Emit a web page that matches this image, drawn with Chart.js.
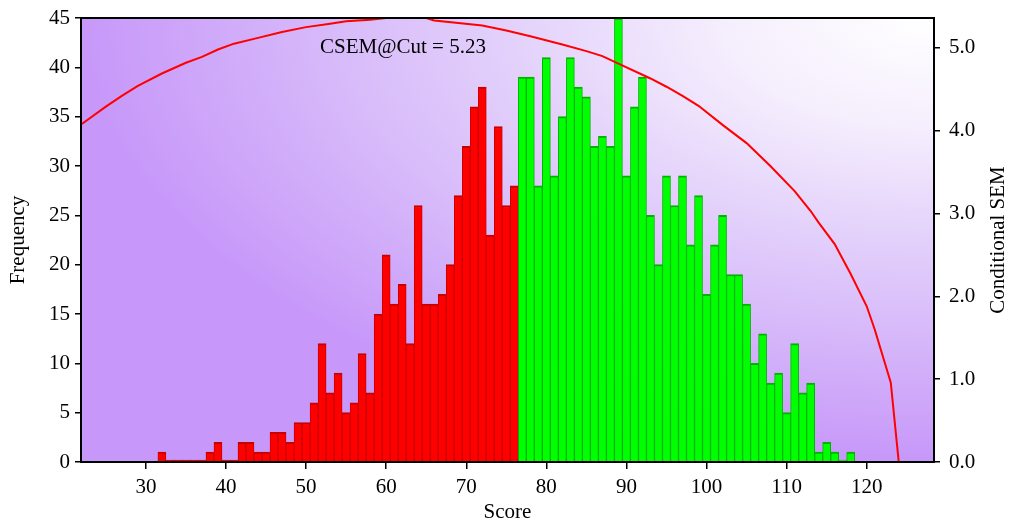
<!DOCTYPE html>
<html>
<head>
<meta charset="utf-8">
<script src="https://cdn.jsdelivr.net/npm/chart.js@4.4.1/dist/chart.umd.min.js"></script>
<style>
  html, body { margin: 0; padding: 0; background: #fff; }
  #wrap { width: 1014px; height: 525px; }
</style>
</head>
<body>
<div id="wrap"><canvas id="scoreChart"></canvas></div>
<script>
// score categories and frequencies
var scores = [32, 33, 34, 35, 36, 37, 38, 39, 40, 41,
              42, 43, 44, 45, 46, 47, 48, 49, 50, 51,
              52, 53, 54, 55, 56, 57, 58, 59, 60, 61,
              62, 63, 64, 65, 66, 67, 68, 69, 70, 71,
              72, 73, 74, 75, 76, 77, 78, 79, 80, 81,
              82, 83, 84, 85, 86, 87, 88, 89, 90, 91,
              92, 93, 94, 95, 96, 97, 98, 99, 100, 101,
              102, 103, 104, 105, 106, 107, 108, 109, 110, 111,
              112, 113, 114, 115, 116, 117, 118];
var freq = [1, 0, 0, 0, 0, 0, 1, 2, 0, 0,
            2, 2, 1, 1, 3, 3, 2, 4, 4, 6,
            12, 7, 9, 5, 6, 11, 7, 15, 21, 16,
            18, 12, 26, 16, 16, 17, 20, 27, 32, 36,
            38, 23, 34, 26, 28, 39, 39, 28, 41, 29,
            35, 41, 38, 37, 32, 33, 32, 45, 29, 36,
            39, 25, 20, 29, 26, 29, 22, 27, 17, 22,
            25, 19, 19, 16, 10, 13, 8, 9, 5, 12,
            7, 8, 1, 2, 1, 0, 1];
var cutScore = 76; // last failing score

// conditional SEM curve
var csemScores = [22, 25, 27, 29, 32, 35, 37, 39, 41, 44, 47, 50, 53, 55, 58, 60, 63, 65, 66, 69, 72, 75,
                  78, 82, 85, 87, 89, 93, 95, 97, 99, 102, 105, 108, 111, 113, 114, 116, 118, 120, 121,
                  122, 123, 124, 129];
var csemValues = [4.08, 4.29, 4.42, 4.54, 4.69, 4.82, 4.89, 4.98, 5.05, 5.12, 5.19, 5.25, 5.29, 5.32, 5.34, 5.36, 5.36, 5.36, 5.33, 5.30, 5.27, 5.21,
                  5.14, 5.04, 4.96, 4.90, 4.81, 4.63, 4.53, 4.42, 4.30, 4.07, 3.85, 3.57, 3.27, 3.03, 2.89, 2.63, 2.27, 1.88, 1.60,
                  1.28, 0.96, 0, 0];
var csemAtCut = 5.23;

var barPoints = [];
for (var i = 0; i < scores.length; i++) {
    barPoints.push({x: scores[i], y: freq[i]});
}
var csemPoints = [];
for (var j = 0; j < csemScores.length; j++) {
    csemPoints.push({x: csemScores[j], y: csemValues[j]});
}

var serif = "'Liberation Serif', 'DejaVu Serif', serif";
Chart.defaults.font.family = serif;
Chart.defaults.font.size = 21;
Chart.defaults.color = '#000';

// background, frame and texts
var plotDecor = {
    id: 'plotDecor',
    beforeDraw: function(chart) {
        var a = chart.chartArea, ctx = chart.ctx;
        var rx = 850, ry = 440;
        ctx.save();
        ctx.beginPath();
        ctx.rect(a.left, a.top, a.right - a.left, a.bottom - a.top);
        ctx.clip();
        ctx.translate(a.right, a.top);
        ctx.scale(1, ry / rx);
        var g = ctx.createRadialGradient(0, 0, 0, 0, 0, rx);
        g.addColorStop(0, '#ffffff');
        g.addColorStop(0.25, '#f5eefd');
        g.addColorStop(0.5, '#e3d1fb');
        g.addColorStop(0.7, '#d8bbfa');
        g.addColorStop(1, '#c798f9');
        ctx.fillStyle = g;
        ctx.fillRect(a.left - a.right, 0, a.right - a.left, (a.bottom - a.top) * rx / ry);
        ctx.restore();
    },
    afterDraw: function(chart) {
        var a = chart.chartArea, ctx = chart.ctx;
        ctx.save();
        ctx.strokeStyle = '#000';
        ctx.lineWidth = 2;
        ctx.strokeRect(a.left, a.top, a.right - a.left, a.bottom - a.top);

        ctx.fillStyle = '#000';
        ctx.font = '21px ' + serif;
        ctx.textAlign = 'left';
        ctx.textBaseline = 'alphabetic';
        ctx.fillText('CSEM@Cut = ' + csemAtCut.toFixed(2), a.left + 239, a.top + 35);

        ctx.translate(998, (a.top + a.bottom) / 2);
        ctx.rotate(-Math.PI / 2);
        ctx.textAlign = 'center';
        ctx.textBaseline = 'middle';
        ctx.fillText('Conditional SEM', 0, 0);
        ctx.restore();
    }
};

function fixVertical(width) {
    return function(s) {
        s.width = width;
        s.paddingTop = 0;
        s.paddingBottom = 0;
    };
}

var ctx1 = document.getElementById('scoreChart').getContext('2d');
var scoreChart = new Chart(ctx1, {
    type: 'bar',
    data: {
        datasets: [{
                type: 'line',
                label: 'Conditional SEM',
                data: csemPoints,
                yAxisID: 'y1',
                borderColor: '#ff0000',
                borderWidth: 2,
                pointRadius: 0,
                tension: 0,
                order: 0
            },
            {
                label: 'Frequency',
                data: barPoints,
                yAxisID: 'y',
                backgroundColor: function(c) { return c.raw && c.raw.x <= cutScore ? '#ff0000' : '#00ff00'; },
                borderColor: function(c) { return c.raw && c.raw.x <= cutScore ? '#c80000' : '#00b400'; },
                borderWidth: {top: 2, left: 1, right: 1, bottom: 0},
                barPercentage: 1,
                categoryPercentage: 1,
                minBarLength: 2,
                order: 1
            }
        ]
    },
    options: {
        responsive: true,
        maintainAspectRatio: false,
        animation: false,
        layout: { padding: { top: 18, left: 0, right: 0, bottom: 0 } },
        plugins: {
            legend: { display: false },
            tooltip: { enabled: false }
        },
        scales: {
            x: {
                type: 'linear',
                offset: false,
                min: 21.9,
                max: 128.4,
                ticks: { stepSize: 10, includeBounds: false, padding: 6, maxRotation: 0 },
                grid: { offset: false, drawOnChartArea: false, tickLength: 7, color: '#000', lineWidth: 1.5 },
                border: { display: false },
                title: { display: true, text: 'Score', padding: { top: 0, bottom: 0 } },
                afterFit: function(s) {
                    s.height = 63;
                    s.paddingLeft = 0;
                    s.paddingRight = 0;
                }
            },
            y: {
                position: 'left',
                min: 0,
                max: 45,
                ticks: { stepSize: 5, padding: 5 },
                grid: { drawOnChartArea: false, tickLength: 6, color: '#000', lineWidth: 1.5 },
                border: { display: false },
                title: { display: true, text: 'Frequency', padding: { top: 6, bottom: 0 } },
                afterFit: fixVertical(81)
            },
            y1: {
                position: 'right',
                min: 0,
                max: 5.36,
                ticks: {
                    stepSize: 1,
                    includeBounds: false,
                    padding: 9,
                    callback: function(v) { return v.toFixed(1); }
                },
                grid: { drawOnChartArea: false, tickLength: 6, color: '#000', lineWidth: 1.5 },
                border: { display: false },
                afterFit: fixVertical(80)
            }
        }
    },
    plugins: [plotDecor]
});
</script>
</body>
</html>
